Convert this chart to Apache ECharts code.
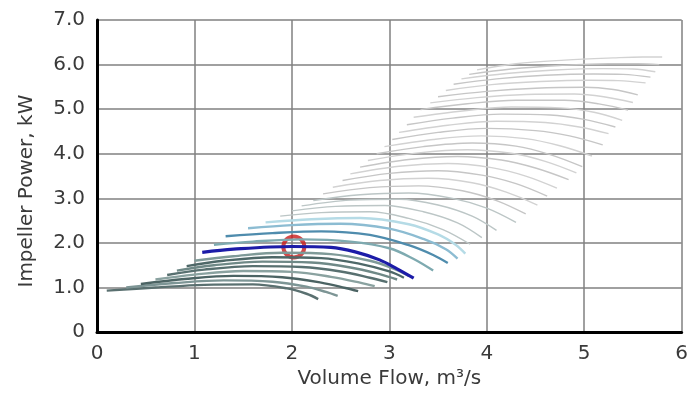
<!DOCTYPE html>
<html>
<head>
<meta charset="utf-8">
<script src="https://cdn.jsdelivr.net/npm/echarts@6/dist/echarts.min.js"></script>
<style>
html, body { margin: 0; padding: 0; background: #fff; }
#chart { width: 691px; height: 394px; }
</style>
</head>
<body>
<div id="chart"></div>
<script>
// axis ticks
var xTicks = ['0', '1', '2', '3', '4', '5', '6'];
var yTicks = ['0', '1.0', '2.0', '3.0', '4.0', '5.0', '6.0', '7.0'];

// lower curves (dark slate), bottom to top
var darkCurves = [
    [[0.10,0.93],[0.6,1.00],[1.1,1.06],[1.6,1.07],[1.95,0.98],[2.15,0.86],[2.27,0.74]],
    [[0.30,1.00],[0.8,1.10],[1.3,1.16],[1.8,1.13],[2.15,1.02],[2.35,0.90],[2.47,0.81]],
    [[0.45,1.08],[0.9,1.19],[1.4,1.26],[1.9,1.23],[2.3,1.11],[2.55,0.99],[2.68,0.92]],
    [[0.60,1.18],[1.0,1.29],[1.5,1.37],[2.0,1.35],[2.4,1.24],[2.7,1.11],[2.85,1.03]],
    [[0.72,1.28],[1.1,1.40],[1.6,1.48],[2.1,1.46],[2.5,1.36],[2.8,1.22],[2.98,1.12]],
    [[0.82,1.38],[1.2,1.50],[1.7,1.58],[2.2,1.56],[2.6,1.45],[2.9,1.30],[3.08,1.18]],
    [[0.92,1.48],[1.3,1.60],[1.8,1.68],[2.3,1.66],[2.7,1.53],[3.0,1.36],[3.15,1.22]],
    [[1.00,1.60],[1.4,1.70],[1.9,1.78],[2.4,1.75],[2.8,1.60],[3.05,1.42],[3.2,1.26]]
];
var darkColors = ['#5a7070', '#7d9595', '#4c6464', '#8aa2a0', '#587070', '#6f8987', '#4e6868', '#7f9a98'];

// selected curve
var blueCurve = [[1.08,1.79],[1.4,1.86],[2.0,1.92],[2.4,1.90],[2.65,1.80],[2.9,1.62],[3.08,1.42],[3.25,1.21]];

// curves just above the selected one
var cyanCurves = [
    [[1.20,1.96],[1.6,2.03],[2.1,2.08],[2.6,2.03],[3.0,1.88],[3.25,1.64],[3.45,1.38]],
    [[1.32,2.15],[1.8,2.22],[2.3,2.26],[2.8,2.18],[3.2,1.95],[3.45,1.73],[3.60,1.55]],
    [[1.55,2.33],[2.0,2.40],[2.5,2.43],[3.0,2.32],[3.35,2.09],[3.58,1.86],[3.70,1.65]],
    [[1.73,2.46],[2.2,2.53],[2.7,2.56],[3.2,2.42],[3.5,2.19],[3.68,1.96],[3.78,1.76]]
];
var cyanColors = ['#7eaab0', '#4f8cad', '#8cbcd2', '#b5dbe6'];

// upper curves (light grey)
var grayCurves = [
    [[1.88,2.60],[2.3,2.68],[2.8,2.70],[3.2,2.55],[3.55,2.30],[3.83,1.97]],
    [[2.00,2.72],[2.45,2.82],[2.95,2.84],[3.35,2.70],[3.7,2.45],[3.95,2.12]],
    [[2.10,2.83],[2.6,2.96],[3.1,2.98],[3.5,2.85],[3.85,2.60],[4.10,2.28]],
    [[2.22,2.95],[2.7,3.08],[3.2,3.12],[3.65,3.00],[4.0,2.78],[4.30,2.46]],
    [[2.32,3.10],[2.8,3.24],[3.3,3.28],[3.75,3.17],[4.1,2.95],[4.40,2.65]],
    [[2.42,3.25],[2.9,3.40],[3.4,3.45],[3.85,3.35],[4.2,3.14],[4.52,2.85]],
    [[2.52,3.40],[3.0,3.56],[3.5,3.62],[3.95,3.52],[4.3,3.33],[4.62,3.05]],
    [[2.60,3.55],[3.1,3.72],[3.6,3.78],[4.05,3.69],[4.4,3.50],[4.72,3.23]],
    [[2.70,3.70],[3.2,3.87],[3.7,3.94],[4.15,3.86],[4.5,3.68],[4.84,3.42]],
    [[2.78,3.85],[3.3,4.02],[3.8,4.09],[4.25,4.01],[4.6,3.83],[4.92,3.57]],
    [[2.87,4.00],[3.35,4.16],[3.85,4.24],[4.3,4.17],[4.65,3.98],[4.98,3.71]],
    [[2.95,4.16],[3.45,4.32],[3.95,4.40],[4.4,4.34],[4.75,4.18],[5.08,3.95]],
    [[3.03,4.32],[3.5,4.48],[4.0,4.57],[4.5,4.52],[4.85,4.40],[5.19,4.20]],
    [[3.10,4.48],[3.6,4.64],[4.1,4.73],[4.6,4.70],[4.95,4.60],[5.25,4.45]],
    [[3.18,4.65],[3.65,4.80],[4.15,4.89],[4.65,4.87],[5.0,4.77],[5.32,4.60]],
    [[3.25,4.82],[3.75,4.96],[4.25,5.05],[4.75,5.03],[5.1,4.93],[5.39,4.75]],
    [[3.32,4.99],[3.8,5.12],[4.3,5.20],[4.8,5.20],[5.15,5.12],[5.45,4.98]],
    [[3.42,5.14],[3.9,5.26],[4.4,5.33],[4.9,5.34],[5.2,5.28],[5.50,5.15]],
    [[3.50,5.28],[4.0,5.40],[4.5,5.47],[5.0,5.49],[5.3,5.44],[5.55,5.32]],
    [[3.58,5.42],[4.05,5.55],[4.55,5.62],[5.05,5.65],[5.35,5.64],[5.63,5.59]],
    [[3.66,5.56],[4.1,5.68],[4.6,5.76],[5.1,5.79],[5.4,5.78],[5.68,5.72]],
    [[3.74,5.68],[4.2,5.80],[4.7,5.88],[5.2,5.91],[5.5,5.90],[5.73,5.84]],
    [[3.82,5.78],[4.25,5.90],[4.75,5.98],[5.25,6.02],[5.55,6.02],[5.77,6.00]],
    [[3.90,5.88],[4.3,6.02],[4.8,6.10],[5.3,6.15],[5.6,6.17],[5.80,6.17]]
];

// operating point
var opPoint = [2.02, 1.91];

var chart = echarts.init(document.getElementById('chart'));

function curveSeries(pts, color, width) {
    return {
        type: 'line',
        data: pts,
        smooth: 0.35,
        showSymbol: false,
        silent: true,
        lineStyle: { color: color, width: width }
    };
}

var series = [];
grayCurves.forEach(function (c, i) {
    series.push(curveSeries(c, i < 4 ? '#bcc6c6' : (i % 2 ? '#d2d2d2' : '#c6c6c6'), 1.4));
});
darkCurves.forEach(function (c, i) {
    series.push(curveSeries(c, darkColors[i], 2.4));
});
cyanCurves.forEach(function (c, i) {
    series.push(curveSeries(c, cyanColors[i], 2.4));
});
series.push(curveSeries(blueCurve, '#1c1ca8', 3.2));
series.push({
    type: 'scatter',
    data: [opPoint],
    symbol: 'circle',
    symbolSize: 21,
    silent: true,
    itemStyle: { color: 'rgba(255,255,255,0)', borderColor: '#c81c1c', borderWidth: 4 }
});

var labelStyle = { fontFamily: 'DejaVu Sans', fontSize: 20, color: '#3a3a3a' };

var option = {
    animation: false,
    backgroundColor: '#fff',
    grid: { left: 97, right: 4, top: 20, bottom: 61, containLabel: false },
    xAxis: {
        type: 'value',
        min: 0, max: 6, interval: 1,
        name: 'Volume Flow, m\u00b3/s',
        nameLocation: 'middle',
        nameGap: 31,
        nameTextStyle: labelStyle,
        axisLine: { show: true, onZero: false, lineStyle: { color: '#000', width: 3 } },
        axisTick: { show: false },
        axisLabel: Object.assign({ margin: 12, formatter: function (v) { return xTicks[Math.round(v)]; } }, labelStyle),
        splitLine: { show: true, lineStyle: { color: '#808080', width: 1.5 } }
    },
    yAxis: {
        type: 'value',
        min: 0, max: 7, interval: 1,
        name: 'Impeller Power, kW',
        nameLocation: 'middle',
        nameGap: 60,
        nameTextStyle: Object.assign({ padding: [0, 30, 0, 0] }, labelStyle),
        axisLine: { show: true, onZero: false, lineStyle: { color: '#000', width: 3 } },
        axisTick: { show: false },
        axisLabel: Object.assign({ margin: 12, formatter: function (v) { return yTicks[Math.round(v)]; } }, labelStyle),
        splitLine: { show: true, lineStyle: { color: '#808080', width: 1.5 } }
    },
    series: series
};
chart.setOption(option);
</script>
</body>
</html>
